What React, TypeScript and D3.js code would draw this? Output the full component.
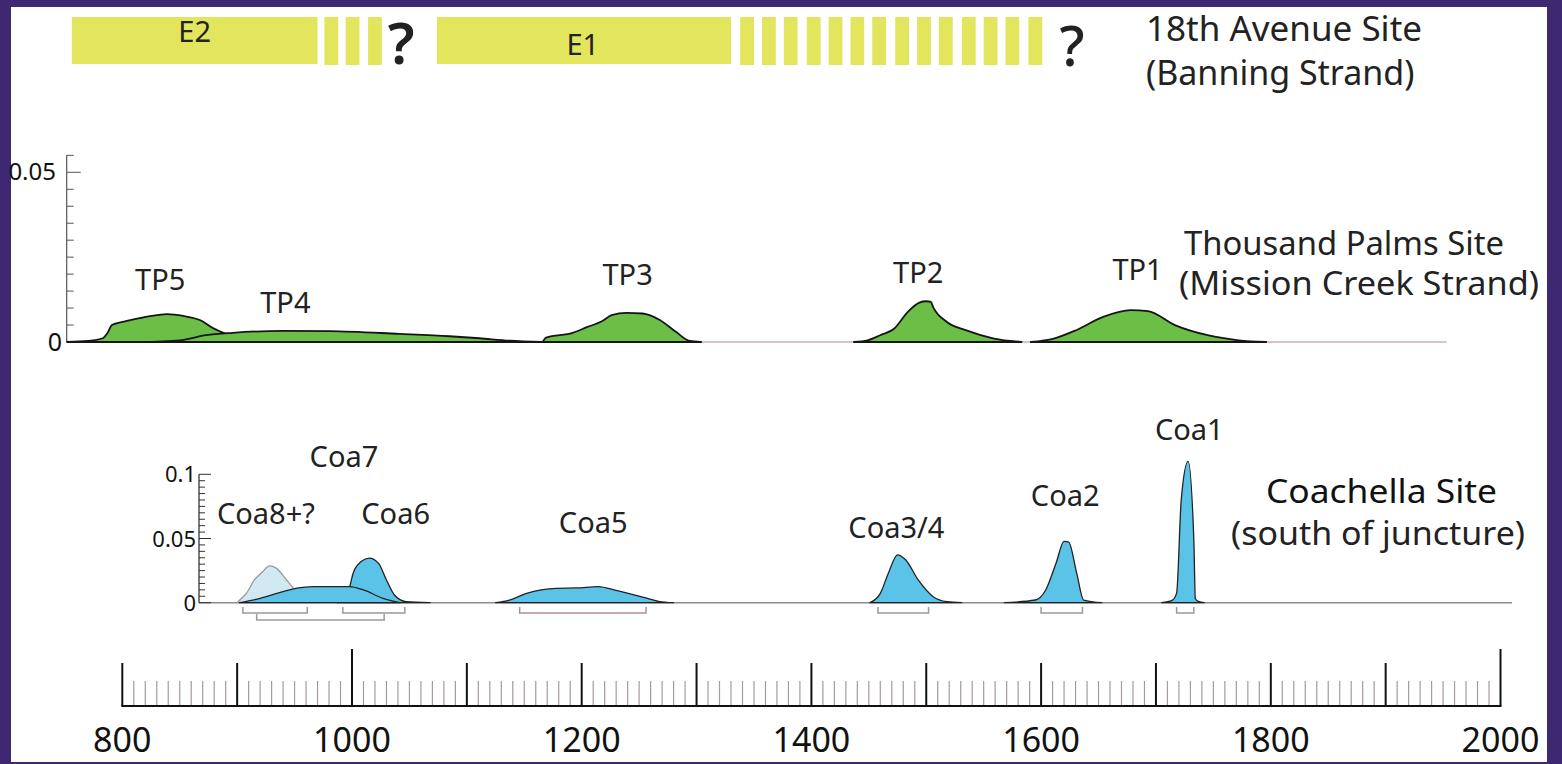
import React from "react";
import * as d3 from "d3";

// ---------- data ----------
const tp5Years = [752, 770, 783, 787, 791, 804, 815, 830, 839, 853, 868, 879, 888, 896, 907, 920];
const tp5Density = [0, 0.0003, 0.0011, 0.0026, 0.005, 0.0062, 0.007, 0.0079, 0.0082, 0.0077, 0.0064, 0.0041, 0.0027, 0.0017, 0.0008, 0];
const tp4Years = [815, 850, 873, 896, 940, 981, 1041, 1085, 1111, 1137, 1166];
const tp4Density = [0, 0.0005, 0.002, 0.0027, 0.0033, 0.0032, 0.0024, 0.0017, 0.0011, 0.0004, 0];
const tp3Years = [1166, 1169, 1192, 1204, 1218, 1226, 1239, 1253, 1268, 1282, 1294, 1304];
const tp3Density = [0, 0.0013, 0.0027, 0.0043, 0.0062, 0.0079, 0.0086, 0.0084, 0.0065, 0.003, 0.0003, 0];
const tp2Years = [1437, 1449, 1460, 1472, 1484, 1494, 1500, 1504, 1506, 1518, 1535, 1559, 1583];
const tp2Density = [0, 0.0005, 0.002, 0.0039, 0.0089, 0.0116, 0.012, 0.0118, 0.0103, 0.0059, 0.0034, 0.001, 0];
const tp1Years = [1591, 1611, 1630, 1654, 1678, 1693, 1717, 1745, 1772, 1796];
const tp1Density = [0, 0.001, 0.0034, 0.0074, 0.0094, 0.0091, 0.0049, 0.002, 0.0005, 0];

const coa8Years = [900, 904, 908, 915, 922, 928, 934, 943, 949, 956, 963, 970];
const coa8Density = [0, 0.0037, 0.0073, 0.0177, 0.0239, 0.0287, 0.0269, 0.0177, 0.0113, 0.0052, 0.0013, 0];
const coa7Years = [902, 920, 940, 952, 966, 998, 1010, 1027, 1042];
const coa7Density = [0, 0.0034, 0.0086, 0.0113, 0.0125, 0.0125, 0.0099, 0.0034, 0];
const coa6Years = [987, 992, 996, 998, 1001, 1008, 1015, 1023, 1030, 1037, 1047, 1068];
const coa6Density = [0, 0.0037, 0.0084, 0.0125, 0.023, 0.032, 0.0347, 0.0308, 0.0177, 0.006, 0.0008, 0];
const coa5Years = [1125, 1137, 1152, 1178, 1196, 1214, 1231, 1254, 1267, 1280];
const coa5Density = [0, 0.0021, 0.0073, 0.0112, 0.0115, 0.0125, 0.0094, 0.0042, 0.0011, 0];
const coa34Years = [1451, 1460, 1467, 1475, 1482, 1493, 1506, 1518, 1531];
const coa34Density = [0, 0.0073, 0.023, 0.0373, 0.0334, 0.0177, 0.0047, 0.0008, 0];
const coa2Years = [1568, 1595, 1604, 1613, 1620, 1624, 1631, 1637, 1653];
const coa2Density = [0, 0.0021, 0.0099, 0.0308, 0.0477, 0.0472, 0.023, 0.0021, 0];
const coa1Years = [1705, 1714, 1718, 1722, 1728, 1733, 1734.3, 1737, 1742];
const coa1Density = [0, 0.0018, 0.0075, 0.08, 0.11, 0.0487, 0.0031, 0.001, 0];

// brackets: [start year, end year], row
const bracketNames = ["Coa8+?", "Coa6", "Coa7", "Coa5", "Coa3/4", "Coa2", "Coa1"];
const bracketStart = [905, 992, 917, 1146, 1458, 1600, 1718];
const bracketEnd = [961, 1046, 1028, 1256, 1502, 1636, 1733];
const bracketRow = [0, 0, 1, 0, 0, 0, 0];

// 18th Avenue events
const eventNames = ["E2", "E1"];
const eventStart = [756, 1074];
const eventEnd = [970, 1330];
const e2Stripes = [976, 994.5, 1014];
const e1Stripes = [1338, 1357, 1376, 1396, 1415, 1434, 1453, 1473, 1492, 1511, 1531, 1550, 1569, 1589];
const stripeWidthYears = 12;

const tpNames = ["TP5", "TP4", "TP3", "TP2", "TP1"];
const tpLabelYears = [833, 942, 1240, 1493, 1684];
const coaNames = ["Coa8+?", "Coa7", "Coa6", "Coa5", "Coa3/4", "Coa2", "Coa1"];
const coaLabelYears = [925, 993, 1038, 1210, 1474, 1621, 1729];

const siteTitles = ["18th Avenue Site", "Thousand Palms Site", "Coachella Site"];
const siteSubtitles = ["(Banning Strand)", "(Mission Creek Strand)", "(south of juncture)"];

const axisLabelYears = [800, 1000, 1200, 1400, 1600, 1800, 2000];
const tpTickLabels = ["0", "0.05"];
const coaTickLabels = ["0", "0.05", "0.1"];

// ---------- component ----------
const W = 1562;
const H = 764;
const FONT = "'Noto Sans', 'Open Sans', sans-serif";
const PURPLE = "#3d2871";
const GREEN = "#6bbf47";
const BLUE = "#5bc3e7";
const LIGHTBLUE = "#d0e9f2";
const YELLOW = "#e3e55c";

export default function App() {
  const x = d3.scaleLinear().domain([800, 2000]).range([122.3, 1500.5]);
  const yTP = d3.scaleLinear().domain([0, 0.05]).range([342, 172.3]);
  const yCoa = d3.scaleLinear().domain([0, 0.1]).range([602.7, 474.3]);

  const zip = (a: number[], b: number[]) => a.map((v, i) => [v, b[i]] as [number, number]);

  const tpArea = d3
    .area<[number, number]>()
    .x((d) => x(d[0]))
    .y0(yTP(0))
    .y1((d) => yTP(d[1]))
    .curve(d3.curveMonotoneX);
  const coaArea = d3
    .area<[number, number]>()
    .x((d) => x(d[0]))
    .y0(yCoa(0))
    .y1((d) => yCoa(d[1]))
    .curve(d3.curveMonotoneX);

  const tpSeries = [
    zip(tp5Years, tp5Density),
    zip(tp4Years, tp4Density),
    zip(tp3Years, tp3Density),
    zip(tp2Years, tp2Density),
    zip(tp1Years, tp1Density),
  ];
  const coaSeries = [
    { d: zip(coa6Years, coa6Density), fill: BLUE, stroke: "#222" },
    { d: zip(coa8Years, coa8Density), fill: LIGHTBLUE, stroke: "#9a9a9a" },
    { d: zip(coa7Years, coa7Density), fill: BLUE, stroke: "#222" },
    { d: zip(coa5Years, coa5Density), fill: BLUE, stroke: "#222" },
    { d: zip(coa34Years, coa34Density), fill: BLUE, stroke: "#222" },
    { d: zip(coa2Years, coa2Density), fill: BLUE, stroke: "#222" },
    { d: zip(coa1Years, coa1Density), fill: BLUE, stroke: "#222" },
  ];

  // ticks
  const tpTicks = d3.range(0, 0.0551, 0.005);
  const coaTicks = d3.range(0, 0.1001, 0.005);
  const minorYears = d3.range(800, 2001, 10);

  const tpLabelY = [290, 313, 285, 283, 280];
  const coaLabelY = [524, 467, 524, 533, 538, 506, 440];

  const axisY = 706;

  return (
    <svg
      width={W}
      height={H}
      viewBox={`0 0 ${W} ${H}`}
      style={{ position: "fixed", left: 0, top: 0, display: "block" }}
      fontFamily={FONT}
    >
      <rect x={0} y={0} width={W} height={H} fill={PURPLE} />
      <rect x={11} y={7} width={1536} height={755} fill="#ffffff" />

      {/* ---- 18th Avenue bars ---- */}
      <g>
        {eventNames.map((n, i) => (
          <rect
            key={n}
            x={x(eventStart[i])}
            y={17}
            width={x(eventEnd[i]) - x(eventStart[i])}
            height={47}
            fill={YELLOW}
          />
        ))}
        {[...e2Stripes, ...e1Stripes].map((s, i) => (
          <rect
            key={"s" + i}
            x={x(s)}
            y={17}
            width={x(s + stripeWidthYears) - x(s)}
            height={48}
            fill={YELLOW}
          />
        ))}
        <text x={x(863)} y={42} fontSize={29} textAnchor="middle" fill="#222">
          {eventNames[0]}
        </text>
        <text x={x(1201)} y={55} fontSize={29} textAnchor="middle" fill="#222">
          {eventNames[1]}
        </text>
        <text x={401} y={64} fontSize={58} fontWeight={600} textAnchor="middle" fill="#222">
          ?
        </text>
        <text x={1072} y={66} fontSize={56} fontWeight={500} textAnchor="middle" fill="#222">
          ?
        </text>
        <text x={1146} y={41} fontSize={35} fill="#222">
          {siteTitles[0]}
        </text>
        <text x={1146} y={85} fontSize={34} fill="#222">
          {siteSubtitles[0]}
        </text>
      </g>

      {/* ---- Thousand Palms panel ---- */}
      <g>
        <line x1={66.7} x2={x(1953)} y1={yTP(0)} y2={yTP(0)} stroke="#b58585" strokeWidth={1.2} />
        <line x1={66.7} x2={66.7} y1={yTP(0)} y2={yTP(0.055)} stroke="#555" strokeWidth={1.2} />
        {tpTicks.map((t, i) => {
          const major = i === 0 || i === 10;
          return (
            <line
              key={i}
              x1={66.7}
              x2={66.7 + (major ? 14 : 7)}
              y1={yTP(t)}
              y2={yTP(t)}
              stroke="#555"
              strokeWidth={1}
            />
          );
        })}
        <text x={62} y={yTP(0) + 9} fontSize={25} textAnchor="end" fill="#111">
          {tpTickLabels[0]}
        </text>
        <text x={56} y={yTP(0.05) + 8} fontSize={24} textAnchor="end" fill="#111">
          {tpTickLabels[1]}
        </text>
        {tpSeries.map((s, i) => (
          <path key={i} d={tpArea(s) || ""} fill={GREEN} stroke="#151515" strokeWidth={1.8} strokeLinejoin="round" />
        ))}
        {tpNames.map((n, i) => (
          <text key={n} x={x(tpLabelYears[i])} y={tpLabelY[i]} fontSize={29} textAnchor="middle" fill="#222">
            {n}
          </text>
        ))}
        <text x={1184} y={255} fontSize={32} textLength={320} lengthAdjust="spacingAndGlyphs" fill="#222">
          {siteTitles[1]}
        </text>
        <text x={1179} y={295} fontSize={32} textLength={360} lengthAdjust="spacingAndGlyphs" fill="#222">
          {siteSubtitles[1]}
        </text>
      </g>

      {/* ---- Coachella panel ---- */}
      <g>
        <line x1={199} x2={1512} y1={yCoa(0)} y2={yCoa(0)} stroke="#8c8c8c" strokeWidth={1.5} />
        <line x1={199} x2={199} y1={yCoa(0)} y2={yCoa(0.1)} stroke="#333" strokeWidth={1.3} />
        {coaTicks.map((t, i) => {
          const major = i % 10 === 0;
          return (
            <line
              key={i}
              x1={199}
              x2={199 + (major ? 12 : 6)}
              y1={yCoa(t)}
              y2={yCoa(t)}
              stroke="#333"
              strokeWidth={1}
            />
          );
        })}
        {coaTickLabels.map((l, i) => (
          <text key={l} x={196} y={yCoa(i * 0.05) + 8} fontSize={22} textAnchor="end" fill="#111">
            {l}
          </text>
        ))}
        {coaSeries.map((s, i) => (
          <path key={i} d={coaArea(s.d) || ""} fill={s.fill} stroke={s.stroke} strokeWidth={1.3} strokeLinejoin="round" />
        ))}
        {bracketNames.map((n, i) => {
          const top = bracketRow[i] === 0 ? 607 : 614;
          const bot = top + 6;
          const x0 = x(bracketStart[i]);
          const x1 = x(bracketEnd[i]);
          return (
            <path
              key={n}
              d={`M${x0},${top}V${bot}H${x1}V${top}`}
              fill="none"
              stroke={n === "Coa5" ? "#b09090" : "#9a9a9a"}
              strokeWidth={1.5}
            />
          );
        })}
        {coaNames.map((n, i) => (
          <text key={n} x={x(coaLabelYears[i])} y={coaLabelY[i]} fontSize={29} textAnchor="middle" fill="#222">
            {n}
          </text>
        ))}
        <text x={1266} y={503} fontSize={33} textLength={231} lengthAdjust="spacingAndGlyphs" fill="#111">
          {siteTitles[2]}
        </text>
        <text x={1231} y={545} fontSize={33} textLength={294} lengthAdjust="spacingAndGlyphs" fill="#222">
          {siteSubtitles[2]}
        </text>
      </g>

      {/* ---- bottom time axis ---- */}
      <g>
        {minorYears.map((yr) => {
          const major = yr % 100 === 0;
          const tall = yr === 1000 || yr === 2000;
          return (
            <line
              key={yr}
              x1={x(yr)}
              x2={x(yr)}
              y1={axisY}
              y2={tall ? 649 : major ? 663 : 681}
              stroke={major ? "#111" : "#a89a9a"}
              strokeWidth={major ? 2 : 1.2}
            />
          );
        })}
        <line x1={x(800) - 1} x2={x(2000) + 1} y1={axisY} y2={axisY} stroke="#111" strokeWidth={2.2} />
        {axisLabelYears.map((yr) => (
          <text key={yr} x={x(yr)} y={752} fontSize={34} textAnchor="middle" fill="#111">
            {yr}
          </text>
        ))}
      </g>
    </svg>
  );
}
